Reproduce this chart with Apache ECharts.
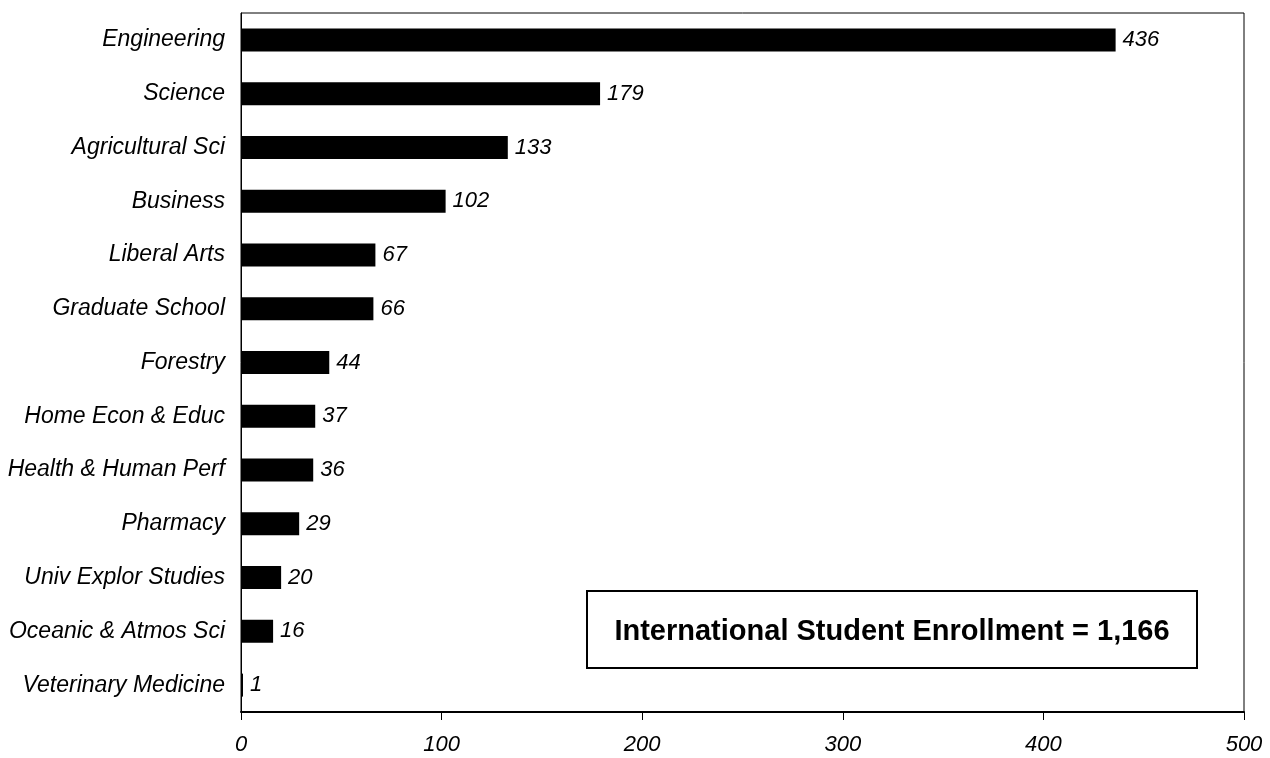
<!DOCTYPE html>
<html><head><meta charset="utf-8">
<script src="https://cdn.jsdelivr.net/npm/echarts@6/dist/echarts.min.js"></script>
<style>html,body{margin:0;padding:0;background:#fff}#c{width:1270px;height:758px}</style>
</head><body><div id="c"></div>
<script>
const categories = ["Engineering","Science","Agricultural Sci","Business","Liberal Arts","Graduate School","Forestry","Home Econ & Educ","Health & Human Perf","Pharmacy","Univ Explor Studies","Oceanic & Atmos Sci","Veterinary Medicine"];
const values = [436,179,133,102,67,66,44,37,36,29,20,16,1];
const xTicks = [0,100,200,300,400,500];
const boxText = "International Student Enrollment = 1,166";

const chart = echarts.init(document.getElementById('c'), null, {renderer:'canvas'});
const FONT = '"Liberation Sans", Arial, sans-serif';
chart.setOption({
  animation:false,
  backgroundColor:'#fff',
  grid:{left:241,right:26,top:13,bottom:46,containLabel:false,show:true,borderColor:'#000',borderWidth:1},
  xAxis:{type:'value',min:xTicks[0],max:xTicks[xTicks.length-1],interval:100,
    axisLine:{show:true,lineStyle:{color:'#000',width:2}},
    axisTick:{show:true,inside:false,length:8,lineStyle:{color:'#000',width:1}},
    splitLine:{show:false},
    axisLabel:{color:'#000',fontFamily:FONT,fontStyle:'italic',fontSize:22,margin:22}},
  yAxis:{type:'category',inverse:true,data:categories,
    axisLine:{show:true,lineStyle:{color:'#000',width:1}},
    axisTick:{show:false},
    axisLabel:{color:'#000',fontFamily:FONT,fontStyle:'italic',fontSize:23,margin:16}},
  series:[{type:'bar',data:values,barWidth:23,itemStyle:{color:'#000'},
    label:{show:true,position:'right',distance:7,color:'#000',fontFamily:FONT,fontStyle:'italic',fontSize:22}}],
  graphic:[
    {type:'rect',x:587,y:591,shape:{width:610,height:77},style:{fill:'#fff',stroke:'#000',lineWidth:2},z:100},
    {type:'text',x:892,y:632,style:{text:boxText,fill:'#000',font:'bold 29px '+FONT,align:'center',verticalAlign:'middle'},z:101}
  ]
});
</script></body></html>
